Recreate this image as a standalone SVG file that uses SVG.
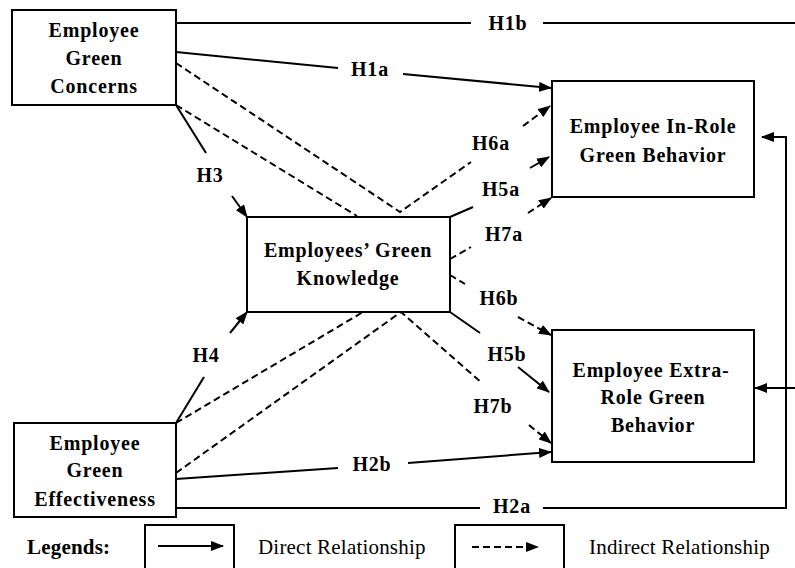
<svg xmlns="http://www.w3.org/2000/svg" width="795" height="568" viewBox="0 0 795 568">
<style>
.box{fill:#fff;stroke:#000;stroke-width:2}
.nt{font-family:"Liberation Serif","Times New Roman",serif;font-weight:bold;font-size:20px;letter-spacing:0.8px;text-anchor:middle;fill:#000}
.lb{font-family:"Liberation Serif","Times New Roman",serif;font-weight:bold;font-size:20px;letter-spacing:0.8px;text-anchor:middle;fill:#000}
.lg{font-family:"Liberation Serif","Times New Roman",serif;font-size:21px;letter-spacing:0.2px;fill:#000}
.s{fill:none;stroke:#000;stroke-width:2}
.d{fill:none;stroke:#000;stroke-width:2;stroke-dasharray:7 4}
.a{marker-end:url(#ah)}
</style>
<defs>
<marker id="ah" markerUnits="userSpaceOnUse" markerWidth="13" markerHeight="10" refX="12" refY="5" orient="auto">
<path d="M0,0 L13,5 L0,10 Z" fill="#000"/>
</marker>
</defs>
<rect width="795" height="568" fill="#fff"/>
<g id="connectors">
<!-- H1b -->
<path class="s" d="M176,23 H471"/>
<path class="s a" d="M543,23 H797 V388 H755"/>
<!-- H2a -->
<path class="s" d="M176,508 H480"/>
<path class="s a" d="M543,508 H786 V137 H762"/>
<!-- H1a -->
<path class="s" d="M176,52 L338,68"/>
<path class="s a" d="M403,74 L551,88"/>
<!-- H2b -->
<path class="s" d="M176,479 L338,468"/>
<path class="s a" d="M408,463 L551,452"/>
<!-- H3 -->
<path class="s" d="M176,105 L206,153"/>
<path class="s a" d="M232,196 L247,217"/>
<!-- H4 -->
<path class="s" d="M176,423 L204,377"/>
<path class="s a" d="M230,333 L247,312"/>
<!-- H5a -->
<path class="s" d="M450,217 L473,207"/>
<path class="s a" d="M530,168 L549,157"/>
<!-- H5b -->
<path class="s" d="M450,312 L480,333"/>
<path class="s a" d="M518,367 L549,392"/>
<!-- H6a -->
<path class="d" d="M176,63 L400,212 L471,162"/>
<path class="d a" d="M523,126 L550,106"/>
<!-- H7a -->
<path class="d" d="M176,105 L357,216"/>
<path class="d" d="M450,259 L471,247"/>
<path class="d a" d="M528,213 L551,198"/>
<!-- H6b -->
<path class="d" d="M450,275 L465,284"/>
<path class="d a" d="M518,317 L551,335"/>
<!-- H7b -->
<path class="d" d="M176,423 L363,312"/>
<path class="d" d="M176,473 L401,312 L482,383"/>
<path class="d a" d="M529,425 L551,443"/>
</g>
<g id="labels">
<text class="lb" x="508" y="30">H1b</text>
<text class="lb" x="370" y="76">H1a</text>
<text class="lb" x="210" y="182">H3</text>
<text class="lb" x="491" y="150">H6a</text>
<text class="lb" x="501" y="196">H5a</text>
<text class="lb" x="504" y="241">H7a</text>
<text class="lb" x="499" y="305">H6b</text>
<text class="lb" x="507" y="361">H5b</text>
<text class="lb" x="493" y="413">H7b</text>
<text class="lb" x="206" y="362">H4</text>
<text class="lb" x="372" y="471">H2b</text>
<text class="lb" x="512" y="513">H2a</text>
</g>
<g id="node-egc">
<rect class="box" x="12" y="10" width="164" height="95"/>
<text class="nt" x="94" y="37">Employee</text>
<text class="nt" x="94" y="65">Green</text>
<text class="nt" x="94" y="93">Concerns</text>
</g>
<g id="node-egk">
<rect class="box" x="247" y="217" width="203" height="95"/>
<text class="nt" x="348" y="257">Employees’ Green</text>
<text class="nt" x="348" y="285">Knowledge</text>
</g>
<g id="node-inrole">
<rect class="box" x="552" y="81" width="202" height="116"/>
<text class="nt" x="653" y="133">Employee In-Role</text>
<text class="nt" x="653" y="162">Green Behavior</text>
</g>
<g id="node-extrarole">
<rect class="box" x="552" y="330" width="202" height="132"/>
<text class="nt" x="651" y="377">Employee Extra-</text>
<text class="nt" x="653" y="404">Role Green</text>
<text class="nt" x="653" y="432">Behavior</text>
</g>
<g id="node-ege">
<rect class="box" x="14" y="423" width="162" height="94"/>
<text class="nt" x="95" y="450">Employee</text>
<text class="nt" x="95" y="477">Green</text>
<text class="nt" x="95" y="506">Effectiveness</text>
</g>
<g id="legend">
<text class="lg" x="27" y="554" font-weight="bold">Legends:</text>
<rect class="box" x="145" y="525" width="89" height="50"/>
<path class="s a" d="M158,546 L223,546"/>
<text class="lg" x="258" y="554">Direct Relationship</text>
<rect class="box" x="455" y="525" width="109" height="50"/>
<path class="d a" d="M472,547 L538,547"/>
<text class="lg" x="589" y="554">Indirect Relationship</text>
</g>
</svg>
